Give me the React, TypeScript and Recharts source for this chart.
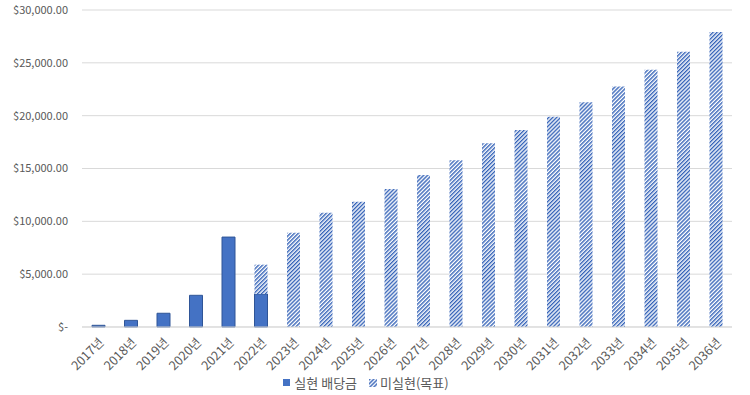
import { BarChart, Bar, XAxis, YAxis, CartesianGrid, Legend } from "recharts";

const years = [
  "2017년", "2018년", "2019년", "2020년", "2021년", "2022년", "2023년", "2024년", "2025년", "2026년",
  "2027년", "2028년", "2029년", "2030년", "2031년", "2032년", "2033년", "2034년", "2035년", "2036년",
];
const realized = [160, 630, 1300, 3000, 8510, 3120, 0, 0, 0, 0, 0, 0, 0, 0, 0, 0, 0, 0, 0, 0];
const unrealized = [
  0, 0, 0, 0, 0, 2780, 8920, 10810, 11850, 13060,
  14380, 15770, 17380, 18640, 19900, 21260, 22770, 24340, 26050, 27910,
];
const yTicks = [0, 5000, 10000, 15000, 20000, 25000, 30000];

const data = years.map((year, i) => ({ year, realized: realized[i], unrealized: unrealized[i] }));

const FONT = "'Noto Sans CJK KR', 'Noto Sans', sans-serif";
const TEXT = "#595959";

const fmtY = (v: number) =>
  v === 0 ? "$-" : "$" + v.toLocaleString("en-US", { minimumFractionDigits: 2, maximumFractionDigits: 2 });

function LegendContent() {
  return (
    <div style={{ display: "flex", justifyContent: "center", alignItems: "center", fontFamily: FONT, fontSize: 13, color: TEXT }}>
      <svg width={7} height={7} style={{ marginRight: 4 }}>
        <rect x={0} y={0} width={7} height={7} fill="#4472C4" />
      </svg>
      <span style={{ marginRight: 12 }}>실현 배당금</span>
      <svg width={8} height={8} style={{ marginRight: 3 }}>
        <rect x={0} y={0} width={8} height={8} fill="url(#hatch)" />
      </svg>
      <span>미실현(목표)</span>
    </div>
  );
}

export default function App() {
  return (
    <div style={{ position: "absolute", left: 0, top: 0, background: "#fff" }}>
      <BarChart
        width={750}
        height={395}
        data={data}
        margin={{ top: 10, right: 18, bottom: 4, left: 0 }}
        barSize={13}
        style={{ fontFamily: FONT }}
      >
        <defs>
          <pattern id="hatch" patternUnits="userSpaceOnUse" width={2.8} height={2.8} patternTransform="rotate(45)">
            <rect x={0} y={0} width={2.8} height={2.8} fill="#ffffff" />
            <rect x={0} y={0} width={1.4} height={2.8} fill="#3563B8" />
          </pattern>
        </defs>
        <CartesianGrid vertical={false} stroke="#d9d9d9" />
        <XAxis
          dataKey="year"
          axisLine={{ stroke: "#d9d9d9" }}
          tickLine={false}
          interval={0}
          angle={-45}
          textAnchor="end"
          height={46}
          tickMargin={4}
          tick={{ fontSize: 12.5, fill: TEXT }}
        />
        <YAxis
          width={82}
          domain={[0, 30000]}
          ticks={yTicks}
          tickFormatter={fmtY}
          axisLine={false}
          tickLine={false}
          tickSize={0}
          tickMargin={14}
          tick={{ fontSize: 11, fill: TEXT }}
        />
        <Legend verticalAlign="bottom" height={18} content={<LegendContent />} />
        <Bar dataKey="realized" stackId="a" fill="#4472C4" stroke="#2F5597" strokeWidth={1} isAnimationActive={false} />
        <Bar dataKey="unrealized" stackId="a" fill="url(#hatch)" isAnimationActive={false} />
      </BarChart>
    </div>
  );
}
